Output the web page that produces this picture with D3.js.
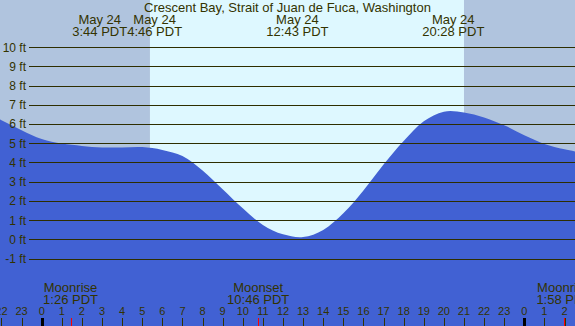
<!DOCTYPE html>
<html>
<head>
<meta charset="utf-8">
<script src="https://cdn.jsdelivr.net/npm/d3@7"></script>
<style>
  body { margin: 0; }
  text { font-family: "Liberation Sans", Arial, sans-serif; fill: #333300; }
</style>
</head>
<body>
<div id="tide"></div>
<script>
// tide heights (ft), one per hour, hours counted from midnight May 24
var hours = [-3, -2, -1, 0, 1, 2, 3, 4, 5, 6, 7, 8, 9, 10, 11, 12, 13, 14,
             15, 16, 17, 18, 19, 20, 21, 22, 23, 24, 25, 26, 27];
var heights = [6.65, 6.20, 5.68, 5.22, 4.98, 4.86, 4.78, 4.78, 4.80, 4.65, 4.33, 3.58,
               2.60, 1.61, 0.75, 0.26, 0.12, 0.49, 1.35, 2.54, 3.89, 5.11, 6.14,
               6.64, 6.60, 6.34, 5.93, 5.41, 4.96, 4.68, 4.48];

// extremes (hours + label)
var extremeHours = [3 + 44/60, 4 + 46/60, 12 + 43/60, 20 + 28/60];
var extremeLabels = ["3:44 PDT", "4:46 PDT", "12:43 PDT", "20:28 PDT"];
var extremeDate = "May 24";

// sun & moon
var sunrise = 5 + 23/60, sunset = 21 + 0/60;
var moonHours = [1 + 26/60, 10 + 46/60, 25 + 58/60];
var moonNames = ["Moonrise", "Moonset", "Moonrise"];
var moonLabels = ["1:26 PDT", "10:46 PDT", "1:58 PDT"];

var yTicks = [-1, 0, 1, 2, 3, 4, 5, 6, 7, 8, 9, 10];
var hourTicks = d3.range(-2, 27);

var title = "Crescent Bay, Strait of Juan de Fuca, Washington";

var width = 575, height = 326;

var svg = d3.select("#tide").append("svg")
    .attr("width", width)
    .attr("height", height);

var x = d3.scaleLinear().domain([0, 24]).range([41.7, 524.3]);
var y = d3.scaleLinear().domain([0, 10]).range([239.3, 47.1]);

// night / day background
svg.append("rect")
    .attr("x", 0).attr("y", 0)
    .attr("width", width).attr("height", height)
    .attr("fill", "#b0c4de");
svg.append("rect")
    .attr("x", x(sunrise)).attr("y", 0)
    .attr("width", x(sunset) - x(sunrise)).attr("height", height)
    .attr("fill", "#def8ff");

// tide area
var tide = hours.map(function(h, i) { return {h: h, v: heights[i]}; });
var area = d3.area()
    .x(function(d) { return x(d.h); })
    .y0(height)
    .y1(function(d) { return y(d.v); })
    .curve(d3.curveCatmullRom.alpha(0.5));

svg.append("path")
    .datum(tide)
    .attr("d", area)
    .attr("fill", "#4161d3");

// horizontal grid and labels
svg.selectAll(".grid")
  .data(yTicks)
  .enter().append("line")
    .attr("x1", 29).attr("x2", width)
    .attr("y1", function(d) { return Math.round(y(d)) + 0.5; })
    .attr("y2", function(d) { return Math.round(y(d)) + 0.5; })
    .attr("stroke", "#2e2e00")
    .attr("stroke-width", 1);

svg.selectAll(".ylab")
  .data(yTicks)
  .enter().append("text")
    .attr("x", 26)
    .attr("y", function(d) { return y(d) + 4.5; })
    .attr("text-anchor", "end")
    .style("font-size", "12px")
    .text(function(d) { return d + " ft"; });

// title
svg.append("text")
    .attr("x", width / 2)
    .attr("y", 12)
    .attr("text-anchor", "middle")
    .style("font-size", "13px")
    .text(title);

// extreme labels, pushed apart when they overlap
var ext = svg.selectAll(".ext")
  .data(extremeHours)
  .enter().append("g");
ext.append("text")
    .attr("class", "d")
    .attr("y", 24)
    .attr("text-anchor", "middle")
    .style("font-size", "13px")
    .text(extremeDate);
ext.append("text")
    .attr("class", "t")
    .attr("y", 35.5)
    .attr("text-anchor", "middle")
    .style("font-size", "13px")
    .text(function(d, i) { return extremeLabels[i]; });

var pos = extremeHours.map(function(h) { return x(h); });
var wid = [];
ext.select(".t").each(function(d, i) { wid[i] = this.getComputedTextLength(); });
for (var i = 1; i < pos.length; i++) {
  var gap = (pos[i] - wid[i] / 2) - (pos[i - 1] + wid[i - 1] / 2);
  if (gap < 0) { pos[i - 1] += gap / 2; pos[i] -= gap / 2; }
}
ext.attr("transform", function(d, i) { return "translate(" + pos[i] + ",0)"; });

// hour axis
svg.selectAll(".hl")
  .data(hourTicks)
  .enter().append("text")
    .attr("x", function(d) { return x(d); })
    .attr("y", 315)
    .attr("text-anchor", "middle")
    .style("font-size", "11px")
    .text(function(d) { return (d + 24) % 24; });

svg.selectAll(".ht")
  .data(hourTicks)
  .enter().append("line")
    .attr("x1", function(d) { return Math.round(x(d)) + 0.5; })
    .attr("x2", function(d) { return Math.round(x(d)) + 0.5; })
    .attr("y1", 318).attr("y2", height)
    .attr("stroke", function(d) { return d % 24 === 0 ? "#000" : "#333300"; })
    .attr("stroke-width", function(d) { return d % 24 === 0 ? 3 : 1; });

// moon
svg.selectAll(".mt")
  .data(moonHours)
  .enter().append("line")
    .attr("x1", function(d) { return Math.round(x(d)) + 0.5; })
    .attr("x2", function(d) { return Math.round(x(d)) + 0.5; })
    .attr("y1", 318).attr("y2", height)
    .attr("stroke", "red");

var moon = svg.selectAll(".ml")
  .data(moonHours)
  .enter().append("g")
    .attr("transform", function(d) { return "translate(" + x(d) + ",0)"; });
moon.append("text")
    .attr("y", 292)
    .attr("text-anchor", "middle")
    .style("font-size", "13px")
    .text(function(d, i) { return moonNames[i]; });
moon.append("text")
    .attr("y", 303.5)
    .attr("text-anchor", "middle")
    .style("font-size", "13px")
    .text(function(d, i) { return moonLabels[i]; });
</script>
</body>
</html>
